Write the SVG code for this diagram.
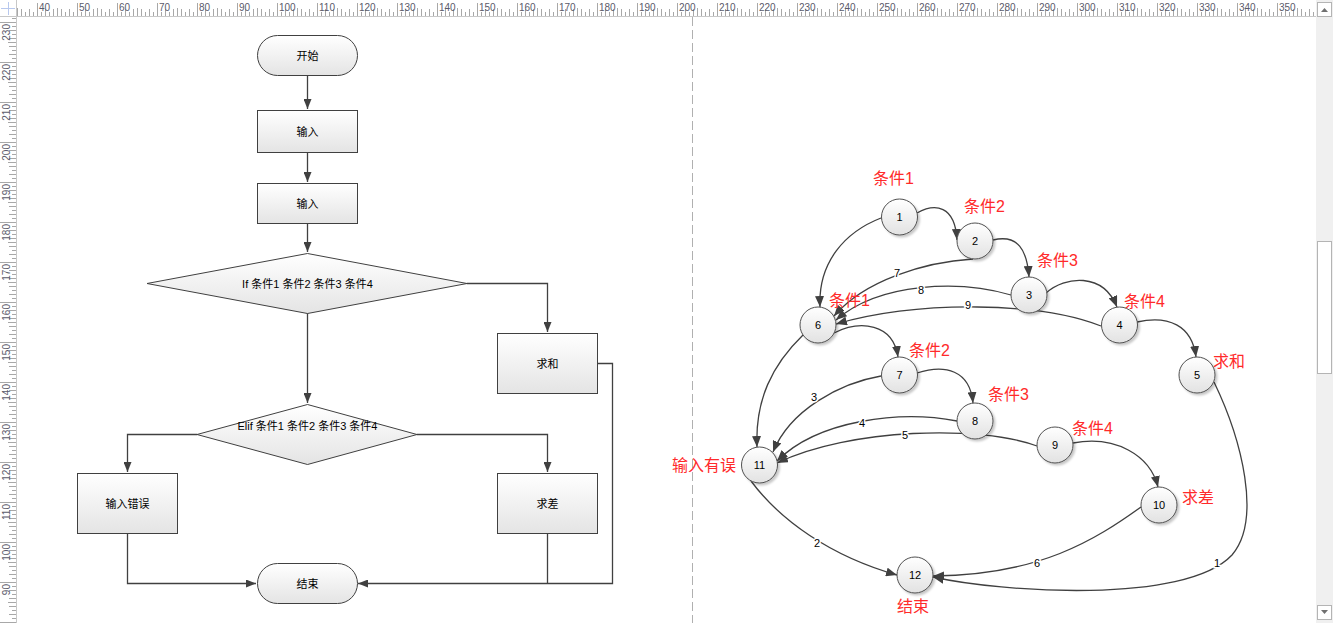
<svg xmlns="http://www.w3.org/2000/svg" width="1333" height="623" viewBox="0 0 1333 623">
<style>
.fc{fill:url(#gFc);stroke:#404040;stroke-width:1}
.ft{font-family:"Liberation Sans","Noto Sans CJK SC",sans-serif;font-size:11px;text-anchor:middle;dominant-baseline:central;fill:#000}
.cn{fill:none;stroke:#404040;stroke-width:1.3}
.fa{marker-end:url(#ah)}
.ga{marker-end:url(#ah2)}
.nd{fill:url(#gC);stroke:#505050;stroke-width:1;filter:url(#sh)}
.nt{font-family:"Liberation Sans",sans-serif;font-size:11px;text-anchor:middle;dominant-baseline:central;fill:#000}
.rl{font-family:"Liberation Sans","Noto Sans CJK SC",sans-serif;font-size:16px;fill:#ff2a2a}
.el{font-family:"Liberation Sans",sans-serif;font-size:11px;text-anchor:middle;dominant-baseline:central;fill:#000;stroke:#fff;stroke-width:3;paint-order:stroke}
.rt{font-family:"Liberation Sans",sans-serif;font-size:10px;fill:#5a5a6a}
</style>
<defs>
<linearGradient id="gFc" x1="0" y1="0" x2="0" y2="1"><stop offset="0" stop-color="#ffffff"/><stop offset="1" stop-color="#e4e4e4"/></linearGradient>
<linearGradient id="gC" x1="0" y1="0" x2="0" y2="1"><stop offset="0" stop-color="#ffffff"/><stop offset="1" stop-color="#e2e2e2"/></linearGradient>
<filter id="sh" x="-30%" y="-30%" width="170%" height="170%"><feDropShadow dx="2" dy="2" stdDeviation="1.2" flood-color="#000" flood-opacity="0.22"/></filter>
<marker id="ah" viewBox="0 0 10 8" refX="10" refY="4" markerWidth="10" markerHeight="8" markerUnits="userSpaceOnUse" orient="auto"><path d="M0,0 L10,4 L0,8 z" fill="#404040"/></marker>
<marker id="ah2" viewBox="0 0 11 9" refX="11" refY="4.5" markerWidth="11" markerHeight="9" markerUnits="userSpaceOnUse" orient="auto"><path d="M0,0 L11,4.5 L0,9 z" fill="#404040"/></marker>
<pattern id="pTop" x="37" y="0" width="40" height="16" patternUnits="userSpaceOnUse">
<g fill="#a8a8a8"><rect x="0" y="3" width="1" height="13"/><rect x="4" y="12" width="1" height="4"/><rect x="8" y="9" width="1" height="7"/><rect x="12" y="12" width="1" height="4"/><rect x="16" y="9" width="1" height="7"/><rect x="20" y="8" width="1" height="8"/><rect x="24" y="9" width="1" height="7"/><rect x="28" y="12" width="1" height="4"/><rect x="32" y="9" width="1" height="7"/><rect x="36" y="12" width="1" height="4"/></g>
</pattern>
<pattern id="pLeft" x="0" y="22" width="16" height="40" patternUnits="userSpaceOnUse">
<g fill="#a8a8a8"><rect x="0" y="0" width="16" height="1"/><rect x="12" y="4" width="4" height="1"/><rect x="9" y="8" width="7" height="1"/><rect x="12" y="12" width="4" height="1"/><rect x="9" y="16" width="7" height="1"/><rect x="8" y="20" width="8" height="1"/><rect x="9" y="24" width="7" height="1"/><rect x="12" y="28" width="4" height="1"/><rect x="9" y="32" width="7" height="1"/><rect x="12" y="36" width="4" height="1"/></g>
</pattern>
</defs>
<rect x="0" y="0" width="1333" height="623" fill="#ffffff"/>

<g id="rulers">
<rect x="16" y="0" width="1300" height="16" fill="url(#pTop)"/>
<rect x="0" y="16" width="16" height="607" fill="url(#pLeft)"/>
<line x1="0" y1="16.5" x2="1316" y2="16.5" stroke="#c8c8c8"/>
<line x1="16.5" y1="0" x2="16.5" y2="623" stroke="#c8c8c8"/>
<rect x="0" y="0" width="16" height="16" fill="#ffffff"/>
<line x1="8.5" y1="2" x2="8.5" y2="15" stroke="#b8c8ee"/>
<line x1="1" y1="8.5" x2="15" y2="8.5" stroke="#b8c8ee"/>
<g class="rt">
<text x="39" y="11">40</text><text x="79" y="11">50</text><text x="119" y="11">60</text><text x="159" y="11">70</text><text x="199" y="11">80</text><text x="239" y="11">90</text><text x="279" y="11">100</text><text x="319" y="11">110</text><text x="359" y="11">120</text><text x="399" y="11">130</text><text x="439" y="11">140</text><text x="479" y="11">150</text><text x="519" y="11">160</text><text x="559" y="11">170</text><text x="599" y="11">180</text><text x="639" y="11">190</text><text x="679" y="11">200</text><text x="719" y="11">210</text><text x="759" y="11">220</text><text x="799" y="11">230</text><text x="839" y="11">240</text><text x="879" y="11">250</text><text x="919" y="11">260</text><text x="959" y="11">270</text><text x="999" y="11">280</text><text x="1039" y="11">290</text><text x="1079" y="11">300</text><text x="1119" y="11">310</text><text x="1159" y="11">320</text><text x="1199" y="11">330</text><text x="1239" y="11">340</text><text x="1279" y="11">350</text>
</g>
<g class="rt" text-anchor="end">
<text x="10" y="24" transform="rotate(-90 10 24)">230</text>
<text x="10" y="64" transform="rotate(-90 10 64)">220</text>
<text x="10" y="104" transform="rotate(-90 10 104)">210</text>
<text x="10" y="144" transform="rotate(-90 10 144)">200</text>
<text x="10" y="184" transform="rotate(-90 10 184)">190</text>
<text x="10" y="224" transform="rotate(-90 10 224)">180</text>
<text x="10" y="264" transform="rotate(-90 10 264)">170</text>
<text x="10" y="304" transform="rotate(-90 10 304)">160</text>
<text x="10" y="344" transform="rotate(-90 10 344)">150</text>
<text x="10" y="384" transform="rotate(-90 10 384)">140</text>
<text x="10" y="424" transform="rotate(-90 10 424)">130</text>
<text x="10" y="464" transform="rotate(-90 10 464)">120</text>
<text x="10" y="504" transform="rotate(-90 10 504)">110</text>
<text x="10" y="544" transform="rotate(-90 10 544)">100</text>
<text x="10" y="584" transform="rotate(-90 10 584)">90</text>
</g>
</g>

<g id="scrollbar">
<rect x="1316" y="0" width="17" height="623" fill="#f0f0f0"/>
<rect x="1317.5" y="2.5" width="14" height="14" fill="#ffffff" stroke="#b4b4b4"/>
<path d="M1321,12 L1324.5,8 L1328,12 z" fill="#707070"/>
<rect x="1317.5" y="241.5" width="14" height="132" fill="#ffffff" stroke="#b4b4b4"/>
<rect x="1317.5" y="605.5" width="14" height="14" fill="#ffffff" stroke="#b4b4b4"/>
<path d="M1321,610 L1324.5,614 L1328,610 z" fill="#707070"/>
</g>

<line id="page-break" x1="692.5" y1="17" x2="692.5" y2="623" stroke="#b0b0b0" stroke-dasharray="9,4"/>

<g id="fc-connectors" class="cn">
<path class="fa" d="M307.5,75 V109"/>
<path class="fa" d="M307.5,152 V182"/>
<path class="fa" d="M307.5,223 V252"/>
<path class="fa" d="M467,283.5 H547.5 V332"/>
<path class="fa" d="M307.5,313 V403"/>
<path class="fa" d="M197,434.5 H127.5 V472"/>
<path class="fa" d="M417,434.5 H547.5 V472"/>
<path class="fa" d="M597,363.5 H612.5 V583.5 H358"/>
<path d="M547.5,533 V583.5"/>
<path class="fa" d="M127.5,533 V583.5 H256"/>
</g>

<g id="fc-start"><rect class="fc" x="257.5" y="35.5" width="100" height="40" rx="20"/><text class="ft" x="307.5" y="55.5">开始</text></g>
<g id="fc-input1"><rect class="fc" x="257.5" y="110.5" width="100" height="42"/><text class="ft" x="307.5" y="131.5">输入</text></g>
<g id="fc-input2"><rect class="fc" x="257.5" y="183.5" width="100" height="40"/><text class="ft" x="307.5" y="203.5">输入</text></g>
<g id="fc-if"><polygon class="fc" points="147,283.5 307.5,253.5 467,283.5 307.5,313.5"/><text class="ft" x="307.5" y="283.5">If 条件1 条件2 条件3 条件4</text></g>
<g id="fc-sum"><rect class="fc" x="497.5" y="333.5" width="100" height="60"/><text class="ft" x="547.5" y="363.5">求和</text></g>
<g id="fc-elif"><polygon class="fc" points="197,434.5 307.5,404.5 417,434.5 307.5,464.5"/><text class="ft" x="307.5" y="425.5">Elif 条件1 条件2 条件3 条件4</text></g>
<g id="fc-error"><rect class="fc" x="77.5" y="473.5" width="100" height="60"/><text class="ft" x="127.5" y="503.5">输入错误</text></g>
<g id="fc-diff"><rect class="fc" x="497.5" y="473.5" width="100" height="60"/><text class="ft" x="547.5" y="503.5">求差</text></g>
<g id="fc-end"><rect class="fc" x="257.5" y="563.5" width="100" height="40" rx="20"/><text class="ft" x="307.5" y="583.5">结束</text></g>

<g id="graph-connectors" class="cn">
<path class="ga" d="M917,213 C935,203 955,205 957,240"/>
<path class="ga" d="M993,240 C1018,234 1027,250 1029,277"/>
<path class="ga" d="M881,218 C845,232 818,262 820,307"/>
<path class="ga" d="M973,259 C925,262 865,280 834,316"/>
<path class="ga" d="M1011,295 C960,280 880,282 836,320"/>
<path class="ga" d="M1101,326 C1040,302 920,300 836,324"/>
<path class="ga" d="M1046,293 C1065,276 1103,272 1117,307"/>
<path class="ga" d="M1137,322 C1168,315 1192,325 1196,357"/>
<path class="ga" d="M834,333 C860,320 893,323 898,357"/>
<path class="ga" d="M803,335 C772,365 755,400 757,447"/>
<path class="ga" d="M881,376 C840,383 790,410 773,452"/>
<path class="ga" d="M917,373 C945,364 970,370 973,403"/>
<path class="ga" d="M957,421 C900,410 818,420 777,461"/>
<path class="ga" d="M1037,446 C980,425 850,428 777,463"/>
<path class="ga" d="M1073,443 C1115,435 1150,455 1158,487"/>
<path class="ga" d="M1214,382 C1242,440 1262,520 1232,555 C1185,605 1000,592 933,577"/>
<path class="ga" d="M1141,507 C1095,540 1040,575 933,576"/>
<path class="ga" d="M751,481 C780,520 830,556 897,575"/>
</g>
<g id="edge-labels">
<text class="el" x="897" y="273">7</text>
<text class="el" x="921" y="290">8</text>
<text class="el" x="968" y="305">9</text>
<text class="el" x="814" y="397">3</text>
<text class="el" x="862" y="423">4</text>
<text class="el" x="905" y="435">5</text>
<text class="el" x="817" y="543">2</text>
<text class="el" x="1037" y="563">6</text>
<text class="el" x="1217" y="563">1</text>
</g>

<g id="n1"><circle class="nd" cx="899.5" cy="217" r="18"/><text class="nt" x="899.5" y="217">1</text></g>
<g id="n2"><circle class="nd" cx="975" cy="241" r="18"/><text class="nt" x="975" y="241">2</text></g>
<g id="n3"><circle class="nd" cx="1029" cy="295" r="18"/><text class="nt" x="1029" y="295">3</text></g>
<g id="n4"><circle class="nd" cx="1119.5" cy="325" r="18"/><text class="nt" x="1119.5" y="325">4</text></g>
<g id="n5"><circle class="nd" cx="1197" cy="375" r="18"/><text class="nt" x="1197" y="375">5</text></g>
<g id="n6"><circle class="nd" cx="818" cy="325" r="18"/><text class="nt" x="818" y="325">6</text></g>
<g id="n7"><circle class="nd" cx="899.5" cy="375" r="18"/><text class="nt" x="899.5" y="375">7</text></g>
<g id="n8"><circle class="nd" cx="975" cy="421" r="18"/><text class="nt" x="975" y="421">8</text></g>
<g id="n9"><circle class="nd" cx="1055" cy="445" r="18"/><text class="nt" x="1055" y="445">9</text></g>
<g id="n10"><circle class="nd" cx="1159" cy="505" r="18"/><text class="nt" x="1159" y="505">10</text></g>
<g id="n11"><circle class="nd" cx="759.5" cy="465" r="18"/><text class="nt" x="759.5" y="465">11</text></g>
<g id="n12"><circle class="nd" cx="915" cy="575" r="18"/><text class="nt" x="915" y="575">12</text></g>

<g id="node-labels" class="rl">
<text x="873" y="184">条件1</text>
<text x="964" y="212">条件2</text>
<text x="1037" y="266">条件3</text>
<text x="829" y="306">条件1</text>
<text x="909" y="356">条件2</text>
<text x="988" y="400">条件3</text>
<text x="1124" y="307">条件4</text>
<text x="1213" y="367">求和</text>
<text x="1072" y="434">条件4</text>
<text x="1182" y="503">求差</text>
<text x="672" y="471">输入有误</text>
<text x="897" y="612">结束</text>
</g>
</svg>
